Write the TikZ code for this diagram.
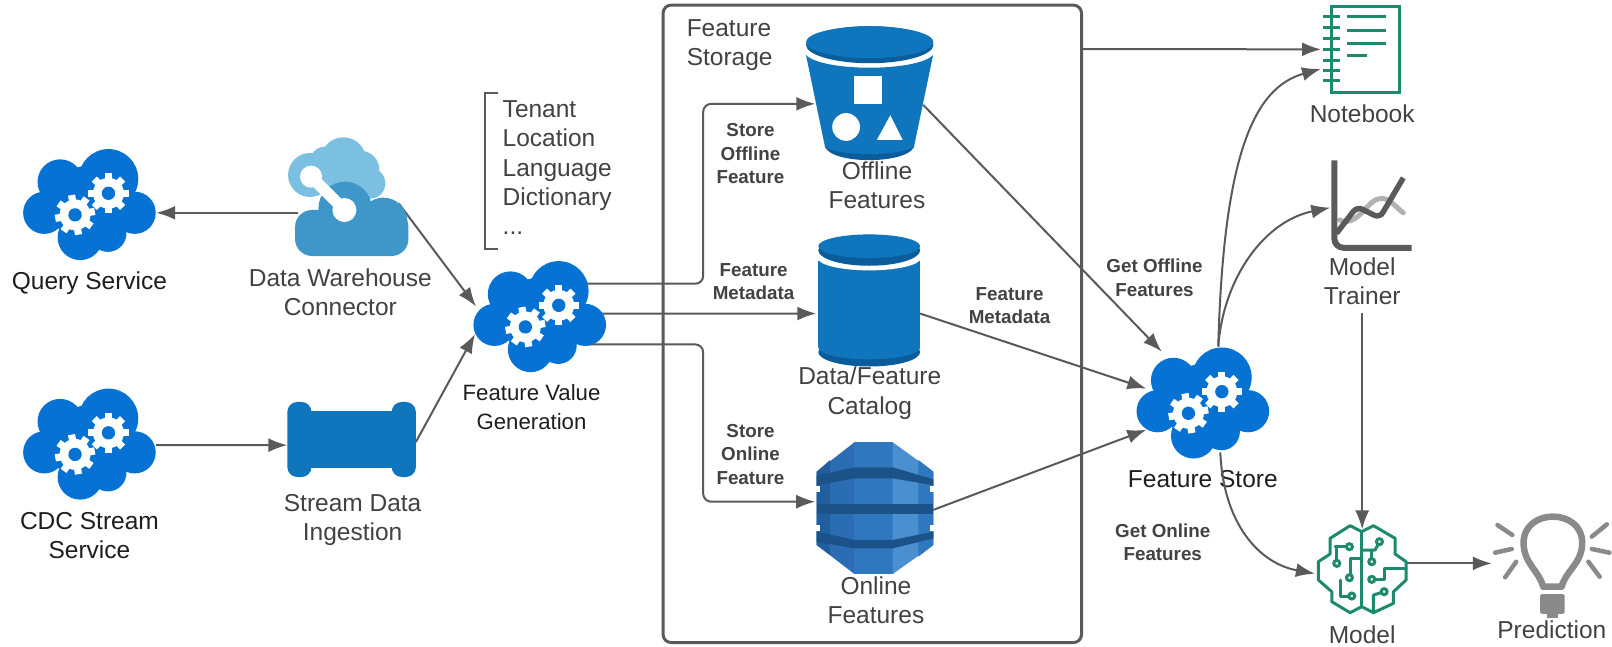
\documentclass[tikz,border=0pt]{standalone}
\usepackage{fontspec}
\setmainfont{Liberation Sans}
\usetikzlibrary{arrows.meta}
\definecolor{cloudblue}{HTML}{0673D4}
\definecolor{awsblue}{HTML}{0F75BC}
\definecolor{awsdark}{HTML}{0B5C9A}
\definecolor{wire}{HTML}{5A5A5A}
\definecolor{teal}{HTML}{1D8A6D}
\definecolor{txtdark}{HTML}{1E1E1E}
\definecolor{txtgray}{HTML}{424242}
\definecolor{bulbgray}{HTML}{8A8A8A}
\definecolor{dwlight}{HTML}{7BC0E0}
\definecolor{dwdark}{HTML}{3E97C8}
\definecolor{dyn1}{HTML}{205E9E}
\definecolor{dyn2}{HTML}{2B6DB3}
\definecolor{dyn3}{HTML}{2F78BF}
\definecolor{dyn4}{HTML}{4A8FD0}
\definecolor{dynband}{HTML}{1B5288}
\def\u{1.02806}
\tikzset{
  iconbox/.style={inner sep=0pt,outer sep=0pt,rectangle},
  lab/.style={inner sep=0pt,outer sep=0pt,align=center,text=txtgray,font=\fontsize{24.5}{29.3}\selectfont},
  labdark/.style={lab,text=txtdark},
  blab/.style={inner sep=0pt,outer sep=0pt,align=center,text=txtgray,font=\fontsize{18.8}{23.5}\selectfont\bfseries},
  conn/.style={draw=wire,line width=2pt,-{Latex[length=19pt,width=14pt,color=wire]}},
  tealline/.style={draw=teal,line width=3pt,line cap=round,line join=round},
  servicecloud/.pic={
    \foreach \lx/\ly/\lr in {-28.5/-22/22,18.5/-25/29,44/8/20.5,-44/8/20.5,-9/32/22,18/28/18,0/0/38}
      \fill[cloudblue] (\lx,\ly) circle (\lr);
    \foreach \gx/\gy/\rot in {-14/10/10,18.5/-11/0}{
      \begin{scope}[shift={(\gx,\gy)},rotate=\rot]
        \fill[white] (0,0) circle (15);
        \foreach \a in {0,45,...,315}
          \draw[white,line width=7.2pt] (\a:12) -- (\a:19.5);
        \fill[cloudblue] (0,0) circle (6.5);
      \end{scope}
    }
  }
}
\begin{document}
\begin{tikzpicture}[x=1.02806pt,y=-1.02806pt]
\useasboundingbox (0,0) rectangle (1568,629.3);
\fill[white] (0,0) rectangle (1568,629.3);
% ---------- anchor nodes for the icons
\node[iconbox,minimum width=133.6pt,minimum height=113pt] (query) at (87,199) {};
\node[iconbox,minimum width=133.6pt,minimum height=113pt] (cdc) at (87,432) {};
\node[iconbox,minimum width=133.6pt,minimum height=113pt] (fv) at (525,308) {};
\node[iconbox,minimum width=133.6pt,minimum height=113pt] (store) at (1170,392) {};
\node[iconbox,minimum width=120.3pt,minimum height=119.3pt] (dw) at (338.5,191) {};
\node[iconbox,minimum width=128.5pt,minimum height=75pt] (ingest) at (342,427.5) {};
\node[iconbox,minimum width=128.5pt,minimum height=133.6pt] (offline) at (846,90) {};
\node[iconbox,minimum width=101.8pt,minimum height=130.6pt] (catalog) at (845.5,291.5) {};
\node[iconbox,minimum width=116.2pt,minimum height=131.6pt] (online) at (851,494) {};
\node[iconbox,minimum width=76.1pt,minimum height=86.4pt] (notebook) at (1324,48) {};
\node[iconbox,minimum width=77.1pt,minimum height=87.4pt] (trainer) at (1335.5,198.5) {};
\node[iconbox,minimum width=88.4pt,minimum height=86.4pt] (model) at (1325,554) {};
\node[iconbox,minimum width=115.1pt,minimum height=94.6pt] (bulb) at (1510,554) {};
\node[iconbox,minimum width=418.4pt,minimum height=637.4pt,draw=wire,line width=3pt,rounded corners=8pt] (storage) at (848.5,315) {};
% ---------- labels
\node[labdark] (lquery) at (87,275.5) {Query Service};
\node[lab] (ldw) at (331,284) {Data Warehouse\\Connector};
\node[labdark] (lcdc) at (87,521) {CDC Stream\\Service};
\node[lab] (lingest) at (343,505.5) {Stream Data\\Ingestion};
\node[labdark,font=\fontsize{22.2}{29.3}\selectfont] (lfv) at (517,396) {Feature Value\\Generation};
\node[lab,align=left,anchor=north west] (lten) at (489,98) {Tenant\\Location\\Language\\Dictionary\\...};
\node[lab,align=left,anchor=north west] (lstorage) at (668,19) {Feature\\Storage};
\node[lab] (loff) at (853,180) {Offline\\Features};
\node[lab] (lcat) at (846,382.5) {Data/Feature\\Catalog};
\node[lab] (lon) at (852,584) {Online\\Features};
\node[labdark] (lstore) at (1170,466) {Feature Store};
\node[lab] (lnote) at (1325,111) {Notebook};
\node[lab] (ltrain) at (1325,273.5) {Model\\Trainer};
\node[lab] (lmodel) at (1325,617) {Model};
\node[lab] (lpred) at (1509.5,613) {Prediction};
\node[blab] (b1) at (730,149.5) {Store\\Offline\\Feature};
\node[blab] (b2) at (733,274) {Feature\\Metadata};
\node[blab] (b3) at (982,297.5) {Feature\\Metadata};
\node[blab] (b4) at (1123,270) {Get Offline\\Features};
\node[blab] (b5) at (1131,527.5) {Get Online\\Features};
\node[blab] (b6) at (730,442) {Store\\Online\\Feature};
% bracket beside the list
\draw[wire,line width=2pt] (484,90) -- (472,90) -- (472,242) -- (484,242);
% ---------- connectors
\draw[conn] ([xshift=10*\u,yshift=-16*\u]dw.west) -- ([yshift=-8*\u]query.east);
\draw[conn] ([xshift=-9*\u,yshift=-7*\u]dw.east) -- ([xshift=3*\u,yshift=10*\u]fv.west);
\draw[conn] ([yshift=-1*\u]cdc.east) -- ([yshift=-5.5*\u]ingest.west);
\draw[conn] ([yshift=-2.5*\u]ingest.east) -- ([xshift=2*\u,yshift=-17*\u]fv.west);
\draw[conn,rounded corners=8pt] ([xshift=-20*\u,yshift=32*\u]fv.east) -- (684,276) -- (684,101) -- ([xshift=9.5*\u,yshift=-11*\u]offline.west);
\draw[conn] ([xshift=-15*\u,yshift=3*\u]fv.east) -- ([xshift=-2*\u,yshift=-13.5*\u]catalog.west);
\draw[conn,rounded corners=8pt] ([xshift=-20*\u,yshift=-27*\u]fv.east) -- (684,335) -- (684,488) -- ([xshift=-1.5*\u,yshift=6*\u]online.west);
\draw[conn] ([xshift=-10.5*\u,yshift=-12*\u]offline.east) -- ([xshift=-40*\u,yshift=-5*\u]store.north);
\draw[conn] ([yshift=-13.5*\u]catalog.east) -- ([xshift=10*\u,yshift=14*\u]store.west);
\draw[conn] ([xshift=-2.5*\u,yshift=-3*\u]online.east) -- ([xshift=10*\u,yshift=-26*\u]store.west);
\draw[conn] ([yshift=267.3*\u]storage.east) -- ([xshift=-2*\u]notebook.west);
\draw[conn] ([xshift=15*\u]store.north) .. controls (1190,150) and (1220,85) .. ([xshift=-2*\u,yshift=-19*\u]notebook.west);
\draw[conn] ([xshift=15*\u]store.north) .. controls (1190,270) and (1230,215) .. ([xshift=-4*\u,yshift=-3.5*\u]trainer.west);
\draw[conn] ([xshift=17*\u,yshift=7*\u]store.south) .. controls (1190,510) and (1225,548) .. ([xshift=-3*\u,yshift=-4*\u]model.west);
\draw[conn] ([yshift=-8*\u]ltrain.south) -- ([yshift=-3*\u]model.north);
\draw[conn] ([yshift=6*\u]model.east) -- ([xshift=-3*\u,yshift=6*\u]bulb.west);
% ---------- service clouds
\pic at (query.center) {servicecloud};
\pic at (cdc.center) {servicecloud};
\pic at (fv.center) {servicecloud};
\pic at (store.center) {servicecloud};
% ---------- data warehouse connector
\begin{scope}[shift={(0,116.7)},scale=.3243]
  \foreach \lx/\ly/\lr in {1030/120/68,930/165/66,1110/190/46,1040/200/60,975/125/45,1080/150/58}
    \fill[dwlight] (\lx,\ly) circle (\lr);
  \foreach \lx/\ly/\lr in {1035/265/80,1150/305/72}
    \fill[dwdark] (\lx,\ly) circle (\lr);
  \fill[dwdark,rounded corners=17pt] (885,270) rectangle (1225,408);
  \draw[white,line width=11.5pt] (933,170) -- (1033,270);
  \fill[white] (933,170) circle (33);
  \fill[white] (1033,270) circle (36);
\end{scope}
% ---------- stream ingestion
\fill[awsblue] (292,400) rectangle (392,455);
\fill[awsblue,rounded corners=10pt] (279.5,391) rectangle (303,464);
\fill[awsblue,rounded corners=10pt] (381,391) rectangle (404.5,464);
% ---------- offline bucket
\fill[awsdark] (802.5,143) .. controls (810,160) and (881,160) .. (889,143) -- cycle;
\fill[awsblue] (784,53.5) .. controls (800,70) and (892,70) .. (907.6,53.5) -- (889,143) .. controls (875,152) and (815,152) .. (802.5,143) -- cycle;
\fill[awsdark] (846,43.5) ellipse (62 and 18);
\fill[awsblue] (846,41) ellipse (62 and 15.5);
\fill[white] (830.5,74) rectangle (858,101);
\fill[white] (823,123.5) circle (13.5);
\fill[white] (853,136) -- (878,136) -- (866,112) -- cycle;
% ---------- catalog cylinder
\fill[awsdark] (845.5,342.5) ellipse (49.5 and 14);
\fill[awsblue] (845.5,338) ellipse (49.5 and 11.5);
\fill[awsblue] (796,253.5) rectangle (895,338);
\fill[white] (845.5,251) ellipse (50 and 12);
\fill[awsdark] (845.5,243.5) ellipse (49.5 and 15);
\fill[awsblue] (845.5,239.5) ellipse (49.5 and 11.5);
% ---------- online DynamoDB
\begin{scope}[shift={(739.3,398.8)},scale=.3243]
  \fill[dyn2] (283,97) -- (170,185) -- (170,405) -- (283,492) -- cycle;
  \fill[dyn1] (210,150) -- (170,185) -- (170,405) -- (210,435) -- cycle;
  \fill[dyn3] (283,97) rectangle (398,492);
  \fill[dyn4] (398,97) -- (520,185) -- (520,405) -- (398,492) -- cycle;
  \fill[dyn3] (475,150) -- (520,185) -- (520,405) -- (475,440) -- cycle;
  \fill[dynband] (170,197) -- (283,172) -- (398,172) -- (520,208) -- (520,226) -- (398,205) -- (283,205) -- (170,226) -- cycle;
  \fill[dynband] (170,283) rectangle (520,312);
  \fill[dynband] (170,365) -- (283,390) -- (398,390) -- (520,365) -- (520,385) -- (398,415) -- (283,415) -- (170,395) -- cycle;
  \foreach \nx/\ny in {168/228,168/345,509/228,509/345}
    \fill[white] (\nx,\ny) rectangle ++(13,18);
\end{scope}
% ---------- notebook
\draw[teal,line width=3.2pt] (1295,6) rectangle (1361,90);
\foreach \ry in {16.2,26.6,37.3,47.7,58.4,69,78.5}
  \draw[teal,line width=3pt] (1287,\ry) -- (1303,\ry);
\draw[teal,line width=3pt] (1310,16.5) -- (1348,16.5) (1310,29.5) -- (1348,29.5) (1310,42) -- (1348,42) (1310,54) -- (1330,54);
% ---------- trainer chart
\draw[black!30,line width=5pt,line cap=round] (1303,214) .. controls (1322,222) and (1330,192) .. (1344,193) .. controls (1352,193) and (1358,202) .. (1365,207);
\draw[wire,line width=5.5pt,line join=round,rounded corners=6pt] (1300,227) -- (1320,201) -- (1342,212) -- (1365,173);
\draw[wire,line width=6pt,rounded corners=9pt] (1298,156) -- (1298,241) -- (1373,241);
% ---------- model brain
\begin{scope}[shift={(1225.7,466.9)},scale=.3243]
  \draw[tealline] (305,155) -- (270,137) -- (210,175) -- (210,222) -- (175,245) -- (175,300) -- (215,335) -- (215,365) -- (270,398) -- (305,380) -- (340,398) -- (400,370) -- (400,335) -- (438,300) -- (438,245) -- (405,222) -- (405,175) -- (340,137) -- cycle;
  \draw[tealline] (305,155) -- (305,380);
  \draw[tealline] (225,200) -- (268,200) (230,200) -- (230,250);
  \draw[tealline] (305,235) -- (270,235) -- (270,293);
  \draw[tealline] (240,300) -- (240,348) -- (275,348);
  \draw[tealline] (305,210) -- (345,210) -- (358,185);
  \draw[tealline] (335,210) -- (335,245);
  \draw[tealline] (438,265) -- (372,265) -- (372,298) -- (335,298);
  \draw[tealline] (340,398) -- (340,345) -- (372,335);
  \foreach \cx/\cy in {268/200,230/250,268/293,275/348,358/185,335/245,335/298,372/335}
    \draw[teal,line width=3pt,fill=white] (\cx,\cy) circle (9);
\end{scope}
% ---------- prediction bulb
\draw[bulbgray,line width=6.5pt,line join=round] (1501,570.7) .. controls (1497,555) and (1482,548) .. (1482,528) .. controls (1482,494) and (1539,494) .. (1539,528) .. controls (1539,548) and (1523,555) .. (1519,570.7) -- cycle;
\fill[bulbgray,rounded corners=2pt] (1498,578) rectangle (1522,597);
\fill[bulbgray] (1505,597) rectangle (1515,601);
\foreach \sx/\sy/\ex/\ey in {1456.6/510.7/1471/520.4,1454.3/537.6/1470.5/534,1464/561.6/1474.8/546.4,1548.4/522/1563/510,1548.4/534/1565.5/537.6,1545/546.4/1556/561}
  \draw[bulbgray,line width=4.5pt,line cap=round] (\sx,\sy) -- (\ex,\ey);
\end{tikzpicture}
\end{document}
